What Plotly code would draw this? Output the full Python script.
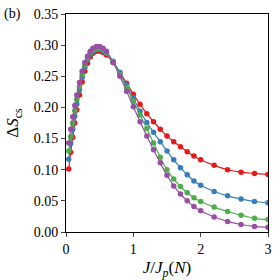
import plotly.graph_objects as go

x_vals = [0.04, 0.07, 0.1, 0.13, 0.16, 0.2, 0.24, 0.28, 0.32, 0.36, 0.4, 0.45, 0.5, 0.55, 0.6,
          0.7, 0.8, 0.9, 1.0, 1.1, 1.2, 1.3, 1.4, 1.5, 1.6, 1.7, 1.8, 1.9, 2.0, 2.2, 2.4, 2.6, 2.8, 3.0]

red_vals = [0.101, 0.128, 0.152, 0.175, 0.196, 0.220, 0.241, 0.258, 0.271, 0.281, 0.287, 0.290, 0.290,
            0.288, 0.284, 0.272, 0.256, 0.239, 0.221, 0.205, 0.190, 0.177, 0.165, 0.154, 0.145, 0.137,
            0.129, 0.122, 0.116, 0.107, 0.100, 0.096, 0.094, 0.0925]
blue_vals = [0.117, 0.142, 0.165, 0.186, 0.205, 0.228, 0.248, 0.264, 0.276, 0.285, 0.290, 0.293, 0.293,
             0.291, 0.287, 0.274, 0.256, 0.236, 0.215, 0.194, 0.176, 0.160, 0.145, 0.130, 0.116, 0.103,
             0.092, 0.082, 0.075, 0.065, 0.058, 0.053, 0.049, 0.047]
green_vals = [0.130, 0.153, 0.175, 0.195, 0.213, 0.234, 0.253, 0.268, 0.279, 0.288, 0.292, 0.295, 0.295,
              0.293, 0.288, 0.273, 0.253, 0.232, 0.210, 0.188, 0.166, 0.143, 0.120, 0.100, 0.085, 0.073,
              0.063, 0.055, 0.049, 0.040, 0.033, 0.027, 0.022, 0.020]
purple_vals = [0.143, 0.165, 0.185, 0.203, 0.220, 0.240, 0.258, 0.272, 0.282, 0.290, 0.295, 0.298, 0.298,
               0.295, 0.290, 0.272, 0.250, 0.226, 0.201, 0.177, 0.154, 0.132, 0.111, 0.091, 0.074, 0.061,
               0.050, 0.041, 0.034, 0.024, 0.017, 0.012, 0.009, 0.0075]

series = [("red", red_vals, "#e41a1c"), ("blue", blue_vals, "#377eb8"),
          ("green", green_vals, "#4daf4a"), ("purple", purple_vals, "#984ea3")]

x_ticks = [0, 1, 2, 3]
y_ticks = [0.0, 0.05, 0.10, 0.15, 0.20, 0.25, 0.30, 0.35]

fig = go.Figure()
for name, vals, col in series:
    fig.add_trace(go.Scatter(x=x_vals, y=vals, mode="lines+markers", name=name,
                             line=dict(color=col, width=1.2, shape="spline"),
                             marker=dict(color=col, size=5.5), cliponaxis=True))

font = dict(family="Liberation Serif", size=14, color="black")
fig.update_layout(
    width=274, height=280, showlegend=False,
    margin=dict(l=66, r=6, t=14, b=48, autoexpand=False),
    plot_bgcolor="white", paper_bgcolor="white", font=font,
    xaxis=dict(range=[0, 3], tickvals=x_ticks, ticks="outside", ticklen=4, tickwidth=1,
               showline=True, linecolor="black", linewidth=1, mirror=True, showgrid=False,
               zeroline=False, automargin=False,
               title=dict(text="<i>J</i>/<i>J</i><sub><i>p</i></sub>(<i>N</i>)", standoff=6)),
    yaxis=dict(range=[0, 0.35], tickvals=y_ticks, tickformat=".2f", ticks="outside", ticklen=4,
               tickwidth=1, showline=True, linecolor="black", linewidth=1, mirror=True, showgrid=False,
               zeroline=False, automargin=False,
               title=dict(text="Δ<i>S</i><sub>cs</sub>", standoff=10)),
    annotations=[dict(text="(b)", x=0, y=1, xref="paper", yref="paper", xshift=-64, yshift=0,
                      showarrow=False, xanchor="left", yanchor="middle", font=font)],
)
fig.write_html("out.html", config={"displayModeBar": False},
               post_script="document.body.style.margin='0';document.body.style.overflow='hidden';")
